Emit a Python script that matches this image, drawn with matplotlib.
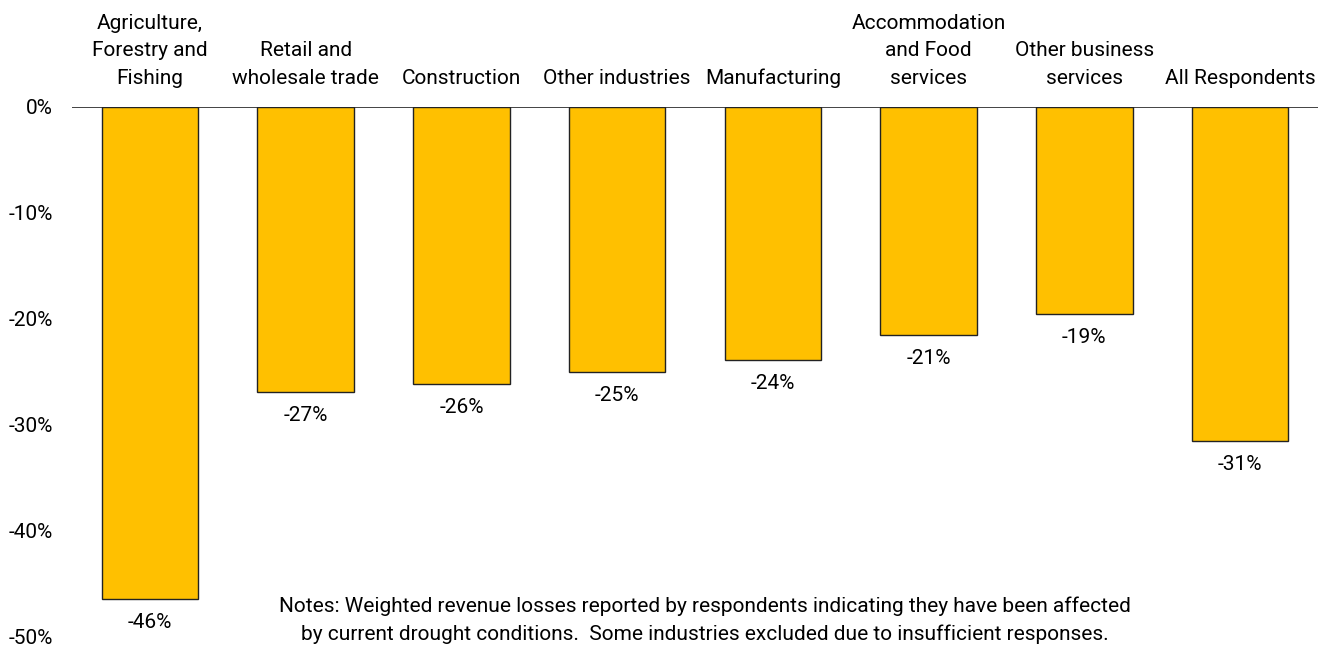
import matplotlib
matplotlib.use("Agg")
import matplotlib.pyplot as plt
import numpy as np

categories = ["Agriculture,\nForestry and\nFishing", "Retail and\nwholesale trade", "Construction",
              "Other industries", "Manufacturing", "Accommodation\nand Food\nservices",
              "Other business\nservices", "All Respondents"]
values = [-46.4, -26.9, -26.1, -25.0, -23.9, -21.5, -19.5, -31.5]
labels = ["-46%", "-27%", "-26%", "-25%", "-24%", "-21%", "-19%", "-31%"]
yticks = [0, -10, -20, -30, -40, -50]
note = ("Notes: Weighted revenue losses reported by respondents indicating they have been affected\n"
        "by current drought conditions.  Some industries excluded due to insufficient responses.")

plt.rcParams['font.family'] = ['Roboto', 'DejaVu Sans']
FS = 15

fig = plt.figure(figsize=(13.31, 6.51), dpi=100)
ax = fig.add_axes([72/1331, (651-637)/651, (1318-72)/1331, (637-107)/651])

x = np.arange(len(categories))
ax.bar(x, values, width=0.62, color="#FFC000", edgecolor="#222222", linewidth=1.0, zorder=2)
ax.axhline(0, color="#222222", linewidth=1.2, zorder=3)

ax.set_xlim(-0.5, len(categories) - 0.5)
ax.set_ylim(-50, 0)
for s in ax.spines.values():
    s.set_visible(False)
ax.set_xticks([])
ax.set_yticks(yticks)
ax.set_yticklabels([f"{t}%" for t in yticks], fontsize=FS)
ax.tick_params(axis='y', length=0, pad=14)

for xi, v, lab in zip(x, values, labels):
    ax.annotate(lab, (xi, v), xytext=(0, -10), textcoords='offset points',
                ha='center', va='top', fontsize=FS)

for xi, c in zip(x, categories):
    ax.annotate(c, (xi, 0), xytext=(0, 14), textcoords='offset points',
                ha='center', va='bottom', fontsize=FS, linespacing=1.55)

fig.text(705/1331, 1 - 620/651, note, ha='center', va='center', fontsize=FS, linespacing=1.55)

fig.savefig("out.png", dpi=100)
